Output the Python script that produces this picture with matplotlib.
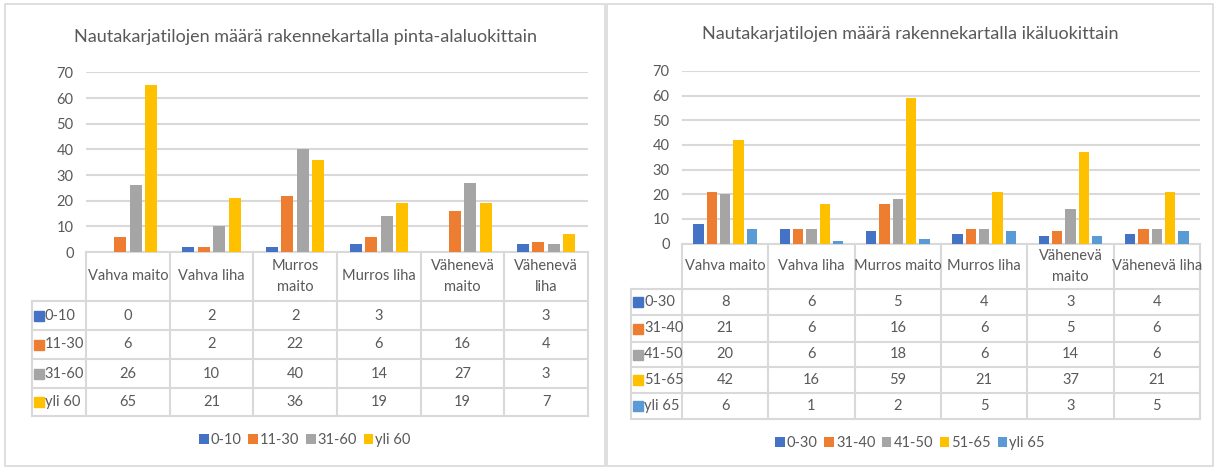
import numpy as np
import matplotlib.pyplot as plt
from matplotlib.lines import Line2D
from matplotlib.patches import Rectangle
from matplotlib.transforms import blended_transform_factory

plt.rcParams['font.family'] = ['Lato', 'DejaVu Sans']

# data
categories = ["Vahva maito", "Vahva liha", "Murros maito", "Murros liha",
              "Vähenevä maito", "Vähenevä liha"]
left_headers = ["Vahva maito", "Vahva liha", "Murros\nmaito", "Murros liha",
                "Vähenevä\nmaito", "Vähenevä\nliha"]
right_headers = ["Vahva maito", "Vahva liha", "Murros maito", "Murros liha",
                 "Vähenevä\nmaito", "Vähenevä liha"]

area_classes = ["0-10", "11-30", "31-60", "yli 60"]
area_0_10 = [0, 2, 2, 3, np.nan, 3]
area_11_30 = [6, 2, 22, 6, 16, 4]
area_31_60 = [26, 10, 40, 14, 27, 3]
area_yli_60 = [65, 21, 36, 19, 19, 7]

age_classes = ["0-30", "31-40", "41-50", "51-65", "yli 65"]
age_0_30 = [8, 6, 5, 4, 3, 4]
age_31_40 = [21, 6, 16, 6, 5, 6]
age_41_50 = [20, 6, 18, 6, 14, 6]
age_51_65 = [42, 16, 59, 21, 37, 21]
age_yli_65 = [6, 1, 2, 5, 3, 5]

colors = ["#4472C4", "#ED7D31", "#A5A5A5", "#FFC000", "#5B9BD5"]
txt = "#595959"
grid = "#D9D9D9"
fs = 10.5

W, H = 1215, 468
fig = plt.figure(figsize=(W / 100, H / 100), dpi=100)


def fy(py):
    return 1 - py / H


def chart(box, title, title_y, plot, series, names, headers, rows, lab_left,
          step, width, legend_y):
    # outer frame
    x0, y0, x1, y1 = box
    fig.patches.append(Rectangle((x0 / W, fy(y1)), (x1 - x0) / W, (y1 - y0) / H,
                                 transform=fig.transFigure, fill=False,
                                 edgecolor=grid, lw=1.2))
    fig.text((x0 + x1) / 2 / W, fy(title_y), title, ha="center", va="center",
             color=txt, fontsize=13)

    l, t, r, b = plot
    ax = fig.add_axes([l / W, fy(b), (r - l) / W, (b - t) / H])
    n = len(series)
    x = np.arange(len(categories))
    bars = []
    for i, vals in enumerate(series):
        bars.append(ax.bar(x + (i - (n - 1) / 2) * step, vals, width,
                           color=colors[i], zorder=3))
    ax.set_xlim(-0.5, len(categories) - 0.5)
    ax.set_ylim(0, 70)
    ax.set_yticks(range(0, 71, 10))
    ax.yaxis.grid(True, color=grid, lw=1.5, zorder=0)
    ax.tick_params(axis="y", length=0, pad=9, labelsize=fs, labelcolor=txt)
    ax.set_xticks([])
    for s in ax.spines.values():
        s.set_visible(False)

    # data table under the axis
    tr = blended_transform_factory(ax.transData, fig.transFigure)
    xl = -0.5 - lab_left
    xr = len(categories) - 0.5

    def line(xs, ys):
        ax.add_line(Line2D(xs, [fy(v) for v in ys], transform=tr, color=grid,
                           lw=1.5, clip_on=False))

    line([-0.5, xr], [b, b])
    for yy in rows:
        line([xl, xr], [yy, yy])
    for k in range(len(categories) + 1):
        line([k - 0.5, k - 0.5], [b, rows[-1]])
    line([xl, xl], [rows[0], rows[-1]])

    for k, h in enumerate(headers):
        ax.text(k, fy((b + rows[0]) / 2), h, transform=tr, ha="center",
                va="center", color=txt, fontsize=fs, linespacing=1.6)
    for i, vals in enumerate(series):
        yc = fy((rows[i] + rows[i + 1]) / 2)
        ax.plot([xl + 0.085], [yc], marker="s", ms=6.5, color=colors[i],
                transform=tr, clip_on=False)
        ax.text(xl + 0.15, yc, names[i], transform=tr, ha="left", va="center",
                color=txt, fontsize=fs)
        for k, v in enumerate(vals):
            if not np.isnan(v):
                ax.text(k, yc, f"{v:g}", transform=tr, ha="center",
                        va="center", color=txt, fontsize=fs)

    fig.legend(bars, names, loc="center", ncol=n, frameon=False,
               bbox_to_anchor=((x0 + x1) / 2 / W, fy(legend_y)),
               handlelength=0.65, handleheight=0.65, handletextpad=0.15,
               columnspacing=0.45, labelcolor=txt, fontsize=fs)
    return ax


chart((5, 4, 605, 466), "Nautakarjatilojen määrä rakennekartalla pinta-alaluokittain",
      37, (86, 72.5, 588, 252),
      [area_0_10, area_11_30, area_31_60, area_yli_60], area_classes,
      left_headers, [301, 330, 359, 388, 416], 0.645, 0.185, 0.145, 440)

chart((607, 4, 1213, 466), "Nautakarjatilojen määrä rakennekartalla ikäluokittain",
      34, (682, 71, 1200, 243.5),
      [age_0_30, age_31_40, age_41_50, age_51_65, age_yli_65], age_classes,
      right_headers, [289, 315, 342, 367, 393, 419], 0.59, 0.154, 0.12, 443)

fig.savefig("out.png", dpi=100)
